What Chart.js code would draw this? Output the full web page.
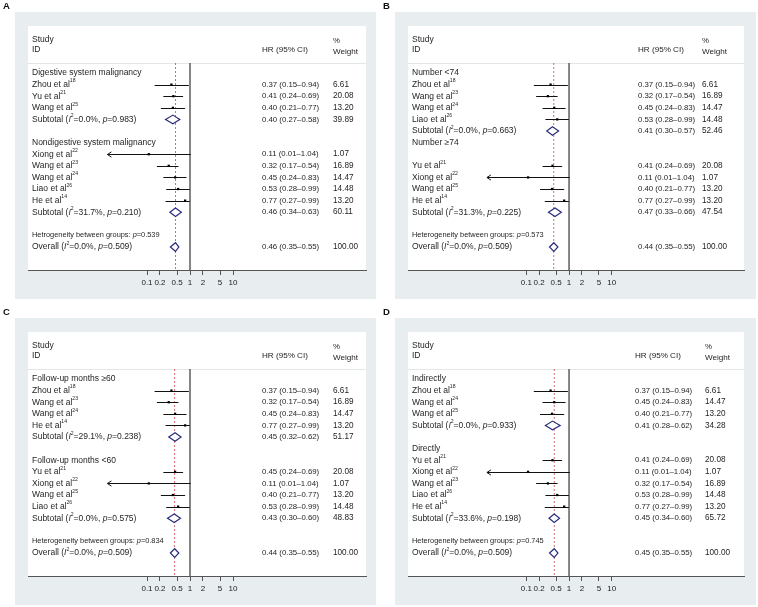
<!DOCTYPE html>
<html>
<head>
<meta charset="utf-8">
<script src="https://cdn.jsdelivr.net/npm/chart.js@4"></script>
<style>
  body { margin: 0; background: #fff; }
  #page { position: relative; width: 758px; height: 607px; overflow: hidden; }
  canvas { position: absolute; }
</style>
</head>
<body>
<div id="page">
  <canvas id="panelA" width="380" height="306" style="left:0;top:0"></canvas>
  <canvas id="panelB" width="378" height="306" style="left:380px;top:0"></canvas>
  <canvas id="panelC" width="380" height="301" style="left:0;top:306px"></canvas>
  <canvas id="panelD" width="378" height="301" style="left:380px;top:306px"></canvas>
</div>
<script>
// ---- data ----
const tickVals = [0.1, 0.2, 0.5, 1, 2, 5, 10];

// A: by cancer type
const groupsA = ['Digestive system malignancy', 'Nondigestive system malignancy'];
const studyA = ['Zhou', 'Yu', 'Wang', 'Xiong', 'Wang', 'Wang', 'Liao', 'He'];
const refA = [18, 21, 25, 22, 23, 24, 26, 14];
const inGroupA = [0, 0, 0, 1, 1, 1, 1, 1];
const hrA = [0.37, 0.41, 0.40, 0.11, 0.32, 0.45, 0.53, 0.77];
const loA = [0.15, 0.24, 0.21, 0.01, 0.17, 0.24, 0.28, 0.27];
const hiA = [0.94, 0.69, 0.77, 1.04, 0.54, 0.83, 0.99, 0.99];
const wtA = [6.61, 20.08, 13.20, 1.07, 16.89, 14.47, 14.48, 13.20];
const subHrA = [0.40, 0.46];
const subLoA = [0.27, 0.34];
const subHiA = [0.58, 0.63];
const subWtA = [39.89, 60.11];
const subI2A = ['0.0', '31.7'];
const subPA = ['0.983', '0.210'];
const overallA = [0.46, 0.35, 0.55];
const hetPA = '0.539';

// B: by sample size
const groupsB = ['Number <74', 'Number \u226574'];
const studyB = ['Zhou', 'Wang', 'Wang', 'Liao', 'Yu', 'Xiong', 'Wang', 'He'];
const refB = [18, 23, 24, 26, 21, 22, 25, 14];
const inGroupB = [0, 0, 0, 0, 1, 1, 1, 1];
const hrB = [0.37, 0.32, 0.45, 0.53, 0.41, 0.11, 0.40, 0.77];
const loB = [0.15, 0.17, 0.24, 0.28, 0.24, 0.01, 0.21, 0.27];
const hiB = [0.94, 0.54, 0.83, 0.99, 0.69, 1.04, 0.77, 0.99];
const wtB = [6.61, 16.89, 14.47, 14.48, 20.08, 1.07, 13.20, 13.20];
const subHrB = [0.41, 0.47];
const subLoB = [0.30, 0.33];
const subHiB = [0.57, 0.66];
const subWtB = [52.46, 47.54];
const subI2B = ['0.0', '31.3'];
const subPB = ['0.663', '0.225'];
const overallB = [0.44, 0.35, 0.55];
const hetPB = '0.573';

// C: by follow-up
const groupsC = ['Follow-up months \u226560', 'Follow-up months <60'];
const studyC = ['Zhou', 'Wang', 'Wang', 'He', 'Yu', 'Xiong', 'Wang', 'Liao'];
const refC = [18, 23, 24, 14, 21, 22, 25, 26];
const inGroupC = [0, 0, 0, 0, 1, 1, 1, 1];
const hrC = [0.37, 0.32, 0.45, 0.77, 0.45, 0.11, 0.40, 0.53];
const loC = [0.15, 0.17, 0.24, 0.27, 0.24, 0.01, 0.21, 0.28];
const hiC = [0.94, 0.54, 0.83, 0.99, 0.69, 1.04, 0.77, 0.99];
const wtC = [6.61, 16.89, 14.47, 13.20, 20.08, 1.07, 13.20, 14.48];
const subHrC = [0.45, 0.43];
const subLoC = [0.32, 0.30];
const subHiC = [0.62, 0.60];
const subWtC = [51.17, 48.83];
const subI2C = ['29.1', '0.0'];
const subPC = ['0.238', '0.575'];
const overallC = [0.44, 0.35, 0.55];
const hetPC = '0.834';

// D: by detection method
const groupsD = ['Indirectly', 'Directly'];
const studyD = ['Zhou', 'Wang', 'Wang', 'Yu', 'Xiong', 'Wang', 'Liao', 'He'];
const refD = [18, 24, 25, 21, 22, 23, 26, 14];
const inGroupD = [0, 0, 0, 1, 1, 1, 1, 1];
const hrD = [0.37, 0.45, 0.40, 0.41, 0.11, 0.32, 0.53, 0.77];
const loD = [0.15, 0.24, 0.21, 0.24, 0.01, 0.17, 0.28, 0.27];
const hiD = [0.94, 0.83, 0.77, 0.69, 1.04, 0.54, 0.99, 0.99];
const wtD = [6.61, 14.47, 13.20, 20.08, 1.07, 16.89, 14.48, 13.20];
const subHrD = [0.41, 0.45];
const subLoD = [0.28, 0.34];
const subHiD = [0.62, 0.60];
const subWtD = [34.28, 65.72];
const subI2D = ['0.0', '33.6'];
const subPD = ['0.933', '0.198'];
const overallD = [0.45, 0.35, 0.55];
const hetPD = '0.745';

const overallI2 = '0.0';
const overallP = '0.509';

// ---- drawing ----
const FONT = '"Liberation Sans", Arial, sans-serif';
const clipLo = 0.012; // lower end of the drawn CI before an arrow

const panels = [
  { id: 'panelA', letter: 'A', groups: groupsA, study: studyA, ref: refA, grp: inGroupA, hr: hrA, lo: loA, hi: hiA, wt: wtA,
    subHr: subHrA, subLo: subLoA, subHi: subHiA, subWt: subWtA, subI2: subI2A, subP: subPA, overall: overallA,
    het: 'Hetrogeneity between groups: ', hetP: hetPA, hrX: 262, wtX: 333, labelShift: [0, 0], h: 306 },
  { id: 'panelB', letter: 'B', groups: groupsB, study: studyB, ref: refB, grp: inGroupB, hr: hrB, lo: loB, hi: hiB, wt: wtB,
    subHr: subHrB, subLo: subLoB, subHi: subHiB, subWt: subWtB, subI2: subI2B, subP: subPB, overall: overallB,
    het: 'Heterogeneity between groups: ', hetP: hetPB, hrX: 258, wtX: 322, labelShift: [0, -1], h: 306 },
  { id: 'panelC', letter: 'C', groups: groupsC, study: studyC, ref: refC, grp: inGroupC, hr: hrC, lo: loC, hi: hiC, wt: wtC,
    subHr: subHrC, subLo: subLoC, subHi: subHiC, subWt: subWtC, subI2: subI2C, subP: subPC, overall: overallC,
    het: 'Heterogeneity between groups: ', hetP: hetPC, hrX: 262, wtX: 333, labelShift: [0, 0], h: 301 },
  { id: 'panelD', letter: 'D', groups: groupsD, study: studyD, ref: refD, grp: inGroupD, hr: hrD, lo: loD, hi: hiD, wt: wtD,
    subHr: subHrD, subLo: subLoD, subHi: subHiD, subWt: subWtD, subI2: subI2D, subP: subPD, overall: overallD,
    het: 'Heterogeneity between groups: ', hetP: hetPD, hrX: 255, wtX: 325, labelShift: [0, 0], h: 301 }
];

function ci(h, l, u) {
  return h.toFixed(2) + ' (' + l.toFixed(2) + '\u2013' + u.toFixed(2) + ')';
}

function buildRows(p) {
  const rows = [];
  let r = 0;
  p.groups.forEach((g, gi) => {
    rows.push({ kind: 'label', y: r + p.labelShift[gi], text: g });
    r++;
    p.grp.forEach((gg, i) => {
      if (gg !== gi) return;
      rows.push({ kind: 'study', y: r, i: i,
        text: p.study[i] + ' et al<sup>' + p.ref[i] + '</sup>' });
      r++;
    });
    rows.push({ kind: 'sub', y: r, i: gi,
      text: 'Subtotal (<i>I</i><sup>2</sup>=' + p.subI2[gi] + '%, <i>p</i>=' + p.subP[gi] + ')' });
    r += 2;
  });
  rows.push({ kind: 'het', y: r, text: p.het + '<i>p</i>=' + p.hetP });
  rows.push({ kind: 'overall', y: r + 1,
    text: 'Overall (<i>I</i><sup>2</sup>=' + overallI2 + '%, <i>p</i>=' + overallP + ')' });
  return rows;
}

function drawRich(ctx, str, x, y, size) {
  const parts = str.split(/(<i>.*?<\/i>|<sup>.*?<\/sup>)/);
  let cx = x;
  parts.forEach(part => {
    if (!part) return;
    let t = part, it = false, sup = false;
    if (part.startsWith('<i>')) { it = true; t = part.slice(3, -4); }
    else if (part.startsWith('<sup>')) { sup = true; t = part.slice(5, -6); }
    const fs = sup ? size * 0.6 : size;
    ctx.font = (it ? 'italic ' : '') + fs + 'px ' + FONT;
    ctx.fillText(t, cx, sup ? y - size * 0.42 : y);
    cx += ctx.measureText(t).width;
  });
}

function diamond(ctx, xs, ys, h, l, u, y) {
  const py = ys.getPixelForValue(y);
  ctx.beginPath();
  ctx.moveTo(xs.getPixelForValue(l), py);
  ctx.lineTo(xs.getPixelForValue(h), py - 4.3);
  ctx.lineTo(xs.getPixelForValue(u), py);
  ctx.lineTo(xs.getPixelForValue(h), py + 4.3);
  ctx.closePath();
  ctx.fillStyle = '#fff';
  ctx.fill();
  ctx.strokeStyle = '#2a2d7c';
  ctx.lineWidth = 1.2;
  ctx.stroke();
}

panels.forEach(p => {
  const rows = buildRows(p);
  const sepY = -0.86;

  const forest = {
    id: 'forest',
    beforeDraw(chart) {
      const ctx = chart.ctx, a = chart.chartArea, ys = chart.scales.y;
      ctx.save();
      ctx.fillStyle = '#e8eef0';
      ctx.fillRect(15, 12, 361, 287);
      ctx.fillStyle = '#fff';
      ctx.fillRect(a.left, a.top, a.right - a.left, a.bottom - a.top);
      const sy = Math.round(ys.getPixelForValue(sepY)) + 0.5;
      ctx.strokeStyle = '#e2e6e8';
      ctx.lineWidth = 1;
      ctx.beginPath(); ctx.moveTo(a.left, sy); ctx.lineTo(a.right, sy); ctx.stroke();
      ctx.fillStyle = '#111';
      ctx.font = 'bold 9.5px ' + FONT;
      ctx.textBaseline = 'alphabetic';
      ctx.fillText(p.letter, 3, 9);
      ctx.restore();
    },
    beforeDatasetsDraw(chart) {
      const ctx = chart.ctx, a = chart.chartArea, xs = chart.scales.x, ys = chart.scales.y;
      const top = ys.getPixelForValue(sepY);
      ctx.save();
      // null line
      const x1 = xs.getPixelForValue(1);
      ctx.strokeStyle = '#444';
      ctx.lineWidth = 1.3;
      ctx.beginPath(); ctx.moveTo(x1, top); ctx.lineTo(x1, a.bottom); ctx.stroke();
      // overall estimate line
      const xo = xs.getPixelForValue(p.overall[0]);
      ctx.strokeStyle = '#c84848';
      ctx.lineWidth = 0.8;
      ctx.setLineDash([2, 2]);
      ctx.beginPath(); ctx.moveTo(xo, top); ctx.lineTo(xo, a.bottom); ctx.stroke();
      ctx.setLineDash([]);
      // confidence intervals
      ctx.strokeStyle = '#111';
      ctx.lineWidth = 1;
      rows.filter(r => r.kind === 'study').forEach(r => {
        const py = Math.round(ys.getPixelForValue(r.y)) + 0.5;
        const lo = Math.max(p.lo[r.i], clipLo);
        const xl = xs.getPixelForValue(lo), xh = xs.getPixelForValue(p.hi[r.i]);
        ctx.beginPath(); ctx.moveTo(xl, py); ctx.lineTo(xh, py); ctx.stroke();
        if (p.lo[r.i] < clipLo) {
          ctx.beginPath();
          ctx.moveTo(xl + 4, py - 2.6); ctx.lineTo(xl, py); ctx.lineTo(xl + 4, py + 2.6);
          ctx.stroke();
        }
      });
      ctx.restore();
    },
    afterDatasetsDraw(chart) {
      const ctx = chart.ctx, xs = chart.scales.x, ys = chart.scales.y;
      ctx.save();
      rows.forEach(r => {
        if (r.kind === 'sub') diamond(ctx, xs, ys, p.subHr[r.i], p.subLo[r.i], p.subHi[r.i], r.y);
        if (r.kind === 'overall') diamond(ctx, xs, ys, p.overall[0], p.overall[1], p.overall[2], r.y);
      });
      ctx.fillStyle = '#1e1e1e';
      ctx.textBaseline = 'middle';
      ctx.textAlign = 'left';
      const fs = 8.5, ns = 7.8;
      // header
      drawRich(ctx, 'Study', 32, ys.getPixelForValue(-2.84), fs);
      drawRich(ctx, 'ID', 32, ys.getPixelForValue(-1.98), fs);
      drawRich(ctx, 'HR (95% CI)', p.hrX, ys.getPixelForValue(-1.98), ns + 0.3);
      drawRich(ctx, '%', p.wtX, ys.getPixelForValue(-2.8), ns);
      drawRich(ctx, 'Weight', p.wtX, ys.getPixelForValue(-1.85), ns + 0.3);
      rows.forEach(r => {
        const py = ys.getPixelForValue(r.y);
        drawRich(ctx, r.text, 32, py, r.kind === 'het' ? 7.4 : fs);
        let num = null, w = null;
        if (r.kind === 'study') { num = ci(p.hr[r.i], p.lo[r.i], p.hi[r.i]); w = p.wt[r.i]; }
        if (r.kind === 'sub') { num = ci(p.subHr[r.i], p.subLo[r.i], p.subHi[r.i]); w = p.subWt[r.i]; }
        if (r.kind === 'overall') { num = ci(p.overall[0], p.overall[1], p.overall[2]); w = 100; }
        if (num) {
          drawRich(ctx, num, p.hrX, py, ns);
          drawRich(ctx, w.toFixed(2), p.wtX, py, ns + 0.4);
        }
      });
      ctx.restore();
    }
  };

  const points = rows.filter(r => r.kind === 'study').map(r => ({ x: p.hr[r.i], y: r.y }));

  new Chart(document.getElementById(p.id), {
    type: 'scatter',
    data: {
      datasets: [{
        data: points,
        pointStyle: 'rect',
        pointRadius: 1.6,
        backgroundColor: '#000',
        borderColor: '#000',
        borderWidth: 0
      }]
    },
    options: {
      responsive: false,
      animation: false,
      devicePixelRatio: 1,
      layout: { padding: { left: 28, right: 14, top: 26, bottom: p.h - 270 - 22 } },
      plugins: { legend: { display: false }, tooltip: { enabled: false } },
      scales: {
        x: {
          type: 'logarithmic',
          min: Math.pow(10, -162 / 43),
          max: Math.pow(10, 176 / 43),
          afterBuildTicks: s => { s.ticks = tickVals.map(v => ({ value: v })); },
          afterFit: s => { s.height = 22; },
          ticks: {
            autoSkip: false,
            maxRotation: 0,
            padding: 3,
            color: '#222',
            font: { size: 8, family: FONT },
            callback: v => String(v)
          },
          grid: { drawOnChartArea: false, tickLength: 5, color: '#555' },
          border: { display: true, color: '#555', width: 1 }
        },
        y: {
          type: 'linear',
          reverse: true,
          min: -4.05,
          max: 16.98,
          display: false
        }
      }
    },
    plugins: [forest]
  });
});
</script>
</body>
</html>
